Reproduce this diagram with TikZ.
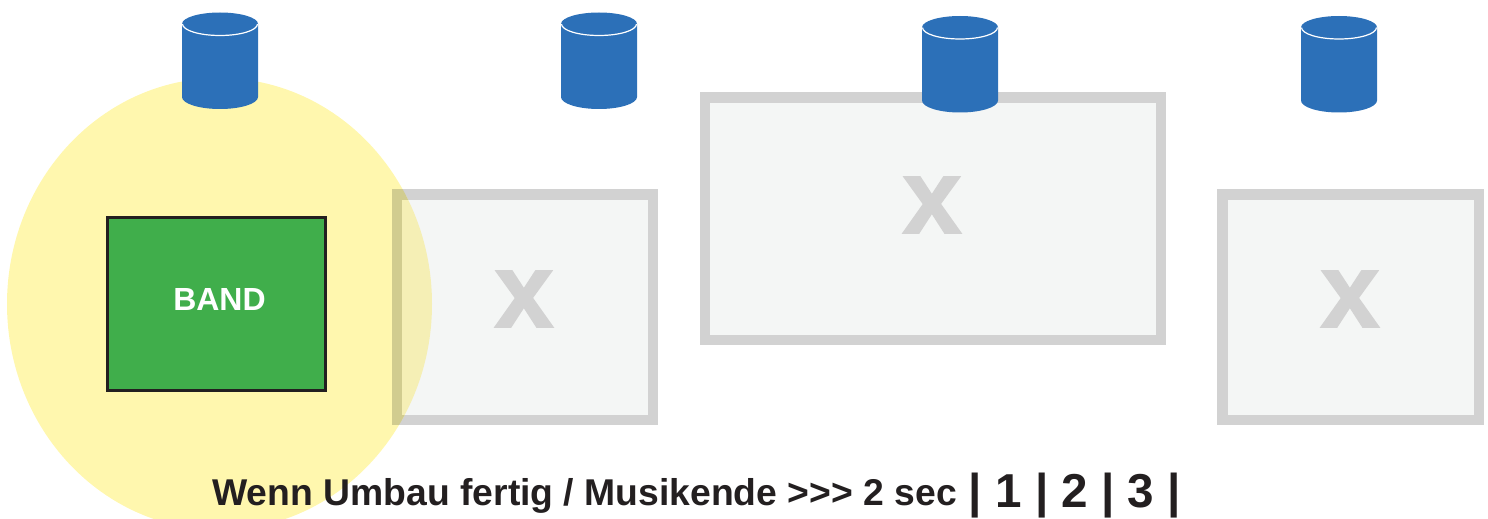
\documentclass[tikz,border=0pt]{standalone}
\usepackage{fontspec}
\setmainfont[Ligatures=NoCommon]{Liberation Sans}
\newfontfamily\heavyfont[BoldFont={Liberation Sans Bold},BoldFeatures={FakeBold=1.6}]{Liberation Sans}
\definecolor{tankblue}{HTML}{2C70B8}
\definecolor{lampyellow}{HTML}{FFF7AE}
\definecolor{boxfill}{HTML}{F4F6F5}
\definecolor{boxline}{HTML}{D2D2D2}
\definecolor{mixfill}{HTML}{F5EFB5}
\definecolor{mixline}{HTML}{D1CC8F}
\definecolor{bandgreen}{HTML}{40AE4B}
\definecolor{inkdark}{HTML}{231F20}
\tikzset{
  x=0.5pt,y=-0.5pt,
  emptybox/.style={draw=boxline,fill=boxfill,line width=5.25pt},
  mixbox/.style={draw=mixline,fill=mixfill,line width=5.25pt},
  xmark/.style={text=boxline,font=\heavyfont\fontsize{53pt}{53pt}\bfseries,inner sep=0pt,anchor=base},
  pics/tank/.style={code={
    \fill[tankblue] (-38,12) arc[start angle=180,end angle=0,x radius=19pt,y radius=5.75pt]
       -- (38,85) arc[start angle=0,end angle=-180,x radius=19pt,y radius=6pt] -- cycle;
    \draw[white,line width=0.6pt] (-37.5,12) arc[start angle=180,end angle=360,x radius=18.75pt,y radius=5.75pt];
  }}
}
\begin{document}
\begin{tikzpicture}
\useasboundingbox (0,0) rectangle (1488,519);
\clip (0,0) rectangle (1488,519);
\fill[lampyellow] (219.5,304) ellipse [x radius=106.25pt,y radius=113pt];
\draw[emptybox] (397,194.5) rectangle (653,420);
\begin{scope}
  \clip (219.5,304) ellipse [x radius=106.25pt,y radius=113pt];
  \draw[mixbox] (397,194.5) rectangle (653,420);
\end{scope}
\draw[emptybox] (705,97.5) rectangle (1161,340);
\draw[emptybox] (1222.5,194.5) rectangle (1479,420);
\node[draw=inkdark,fill=bandgreen,line width=1.5pt,minimum width=109pt,minimum height=86.5pt,inner sep=0pt] (band) at (216,303.5) {};
\node[text=white,font=\fontsize{16pt}{16pt}\bfseries,inner sep=0pt,anchor=base] (bandlabel) at (219.5,310) {BAND};
\node[xmark] (xone) at (524,327) {x};
\node[xmark] (xtwo) at (932,233) {x};
\node[xmark] (xthree) at (1350,327) {x};
\pic at (220,12) {tank};
\pic at (599,12) {tank};
\pic at (960,15.5) {tank};
\pic at (1339,15.5) {tank};
\node[text=inkdark,font=\fontsize{18.65pt}{18.65pt}\bfseries,inner sep=0pt,anchor=base west] (caption) at (212,505) {Wenn Umbau fertig / Musikende {>}{>}{>} 2 sec};
\node[text=inkdark,font=\fontsize{23.8pt}{23.8pt}\bfseries,inner sep=0pt,anchor=base west] (count) at (968.5,507) {| 1 | 2 | 3 |};
\end{tikzpicture}
\end{document}
